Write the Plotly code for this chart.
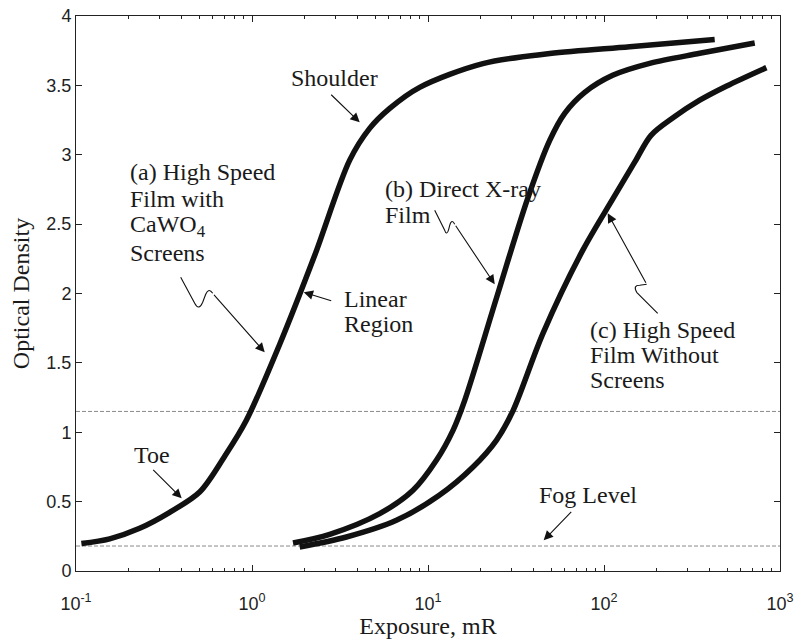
import plotly.graph_objects as go

# ---------------- data ----------------
a_x = [0.1073, 0.1554, 0.230, 0.3407, 0.5043, 0.6997, 0.929, 1.437, 2.272, 3.59, 4.66, 6.06, 8.97,
       20.5, 49.2, 140, 425.6]
a_y = [0.1975, 0.232, 0.308, 0.423, 0.569, 0.827, 1.086, 1.634, 2.275, 2.961, 3.19, 3.334, 3.486,
       3.657, 3.729, 3.778, 3.83]

b_x = [1.71, 2.764, 5.317, 8.22, 11.16, 13.87, 16.17, 24.57, 36.86, 49.15, 59.8, 77.7, 112.0, 181.8,
       349.9, 718.5]
b_y = [0.2018, 0.2645, 0.4137, 0.5816, 0.7978, 1.014, 1.230, 1.973, 2.686, 3.104, 3.299, 3.450, 3.573,
       3.659, 3.731, 3.805]

c_x = [1.866, 3.44, 6.614, 11.59, 18.02, 24.47, 30.29, 45.0, 75.68, 112.0, 150.0, 185.0, 248.9, 349.9,
       498, 837]
c_y = [0.173, 0.245, 0.3654, 0.5456, 0.7495, 0.942, 1.151, 1.713, 2.311, 2.68, 2.95, 3.14, 3.27, 3.393,
       3.4955, 3.628]

ref_levels = [1.15, 0.18]
x_range = [0.1, 1000]

x_major = [0.1, 1, 10, 100, 1000]
x_major_text = ["10<sup>-1</sup>", "10<sup>0</sup>", "10<sup>1</sup>", "10<sup>2</sup>", "10<sup>3</sup>"]
x_minor = [m * d for d in [0.1, 1, 10, 100] for m in range(2, 10)]
y_ticks = [0, 0.5, 1, 1.5, 2, 2.5, 3, 3.5, 4]
y_text = ["0", "0.5", "1", "1.5", "2", "2.5", "3", "3.5", "4"]

# ---------------- layout helpers (pixel -> paper) ----------------
W, H = 795, 639
X0, X1, Y0, Y1 = 76.3, 780.3, 570.7, 15.7


def px(x):
    return (x - X0) / (X1 - X0)


def py(y):
    return (Y0 - y) / (Y0 - Y1)


fig = go.Figure()
for lv in ref_levels:
    fig.add_trace(go.Scatter(x=x_range, y=[lv, lv], mode="lines",
                             line=dict(color="#8a8a8a", width=1, dash="4px,2px"),
                             hoverinfo="skip", showlegend=False))
for xs, ys in [(a_x, a_y), (b_x, b_y), (c_x, c_y)]:
    fig.add_trace(go.Scatter(x=xs, y=ys, mode="lines",
                             line=dict(color="#111111", width=5.5, shape="spline", smoothing=0.9),
                             showlegend=False))

serif = "Liberation Serif, Times New Roman, serif"
# text lines: (text, left px, baseline px)
labels = [
    ("Shoulder", 289, 86),
    ("(a) High Speed", 128, 180),
    ("Film with", 128, 207),
    ("CaWO<sub>4</sub>", 128, 234),
    ("Screens", 128, 261),
    ("Linear", 342, 307),
    ("Region", 342, 332),
    ("(b) Direct X-ray", 383, 197),
    ("Film", 383, 223),
    ("(c) High Speed", 588, 338),
    ("Film Without", 588, 363),
    ("Screens", 588, 388),
    ("Toe", 132, 463),
    ("Fog Level", 537, 503),
]
annotations = []
for t, lx, bl in labels:
    annotations.append(dict(text=t, x=px(lx), y=py(bl - 8), xref="paper", yref="paper",
                            xanchor="left", yanchor="middle", showarrow=False,
                            font=dict(family=serif, size=24, color="#1a1a1a")))

# arrows: (tail px, head px)
arrows = [
    ((330, 93), (360, 122)),
    ((333, 301), (304, 292)),
    ((152, 468), (182, 498)),
    ((573, 510), (544, 540)),
    ((213, 293), (265, 352)),
    ((455, 224), (495, 284)),
    ((647, 284), (608, 213)),
]
for (tx, ty), (hx, hy) in arrows:
    annotations.append(dict(text="", x=px(hx), y=py(hy), xref="paper", yref="paper",
                            ax=tx - hx, ay=ty - hy, showarrow=True,
                            arrowhead=2, arrowsize=1.7, arrowwidth=1.1, arrowcolor="#111"))

wiggles = [
    [("M", 181, 277), ("L", 195, 303), ("Q", 199, 311, 203, 302), ("L", 206, 294), ("Q", 209, 287, 213, 293)],
    [("M", 435, 210), ("L", 445, 230), ("Q", 447, 236, 449, 229), ("L", 450, 225), ("Q", 452, 218, 455, 224)],
    [("M", 658, 313), ("L", 637, 292), ("Q", 633, 285, 640, 285), ("L", 647, 284)],
]
shapes = []
for w in wiggles:
    parts = []
    for seg in w:
        cmd = seg[0]
        coords = seg[1:]
        pts = []
        for i in range(0, len(coords), 2):
            pts.append(f"{px(coords[i]):.5f},{py(coords[i+1]):.5f}")
        parts.append(cmd + " " + " ".join(pts))
    shapes.append(dict(type="path", path=" ".join(parts), xref="paper", yref="paper",
                       line=dict(color="#111", width=1.1)))

axis_common = dict(showline=True, linecolor="#222", linewidth=1, mirror="ticks",
                   ticks="inside", ticklen=6, tickcolor="#222", showgrid=False, zeroline=False,
                   tickfont=dict(family="Liberation Sans, Arial, sans-serif", size=18, color="#222"))

fig.update_layout(
    width=W, height=H,
    margin=dict(l=X0, r=W - X1, t=Y1, b=H - Y0, autoexpand=False),
    paper_bgcolor="white", plot_bgcolor="white",
    xaxis=dict(type="log", range=[-1, 3], tickvals=x_major, ticktext=x_major_text,
               minor=dict(tickvals=x_minor, ticks="inside", ticklen=3, tickcolor="#222"),
               ticklabelstandoff=16,
               title=dict(text="Exposure, mR", font=dict(family=serif, size=24, color="#1a1a1a"), standoff=3),
               **axis_common),
    yaxis=dict(range=[0, 4], tickvals=y_ticks, ticktext=y_text,
               title=dict(text="Optical Density", font=dict(family=serif, size=24, color="#1a1a1a"), standoff=9),
               **axis_common),
    annotations=annotations, shapes=shapes,
)

fig.write_html("out.html", config={"displayModeBar": False},
               post_script="document.body.style.margin='0px';")
